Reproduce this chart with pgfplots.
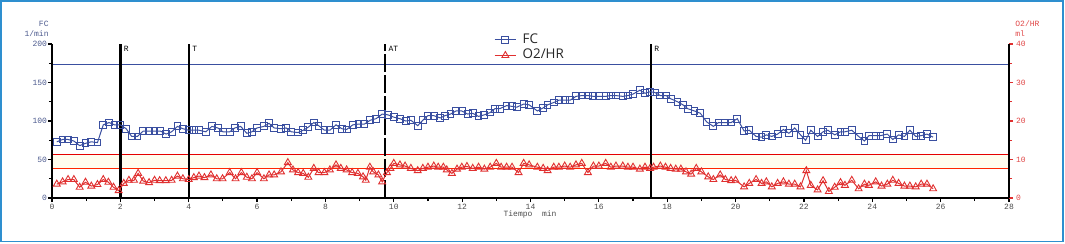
\documentclass[border=0pt]{standalone}
\usepackage{fontspec}
\setmainfont{Liberation Sans}
\newfontfamily\mono{Liberation Mono}
\newfontfamily\legfont{Open Sans}
\usepackage{pgfplots}
\pgfplotsset{compat=1.18}
\definecolor{framecol}{HTML}{2E8FCF}
\definecolor{fcblue}{HTML}{3A4FA0}
\definecolor{hrred}{HTML}{E03030}
\definecolor{lblue}{HTML}{4C5A8E}
\definecolor{lred}{HTML}{E04848}
\definecolor{pale}{HTML}{FFFDEE}
\newcommand{\tk}{\mono\fontsize{4}{5}\selectfont}
\begin{document}
\begin{tikzpicture}
\useasboundingbox (0,0) rectangle (532.5pt,121.5pt);
\draw[framecol, line width=0.8pt] (0.6pt,0.8pt) rectangle (531.6pt,120.9pt);
\begin{axis}[
  at={(26pt,22.5pt)}, anchor=south west,
  scale only axis, width=478.5pt, height=77pt,
  xmin=0, xmax=28, ymin=0, ymax=200,
  axis x line*=bottom, axis y line*=left,
  axis line style={line width=1pt, black, -},
  xtick={0,2,...,28}, minor xtick={1,3,...,27},
  ytick={0,50,...,200}, minor ytick={25,75,...,175},
  tick align=outside,
  major tick length=2pt, minor tick length=1.5pt,
  tick style={black, line width=0.6pt},
  every tick label/.append style={font=\tk},
  /pgf/number format/assume math mode=true,
  x tick label style={text=black!70, yshift=2.6pt},
  y tick label style={text=lblue, xshift=3pt},
  axis on top,
  clip=false,
]
\fill[pale] (axis cs:0,38) rectangle (axis cs:28,56.75);
\draw[red!90!black, line width=0.5pt] (axis cs:0,56.75) -- (axis cs:28,56.75);
\draw[red!70!orange, line width=0.5pt] (axis cs:0,38) -- (axis cs:28,38);
\draw[fcblue, line width=0.5pt] (axis cs:0,174) -- (axis cs:28,174);
\draw[line width=1.2pt] (axis cs:2,0) -- (axis cs:2,200);
\draw[line width=1.2pt] (axis cs:4,0) -- (axis cs:4,200);
\draw[line width=1.2pt, dash pattern=on 9pt off 1.5pt] (axis cs:9.74,0) -- (axis cs:9.74,200);
\draw[line width=1.2pt] (axis cs:17.52,0) -- (axis cs:17.52,200);
\node[anchor=north west, font=\tk, inner sep=1pt, xshift=0.6pt] at (axis cs:2,200) {R};
\node[anchor=north west, font=\tk, inner sep=1pt, xshift=0.6pt] at (axis cs:4,200) {T};
\node[anchor=north west, font=\tk, inner sep=1pt, xshift=0.6pt] at (axis cs:9.74,200) {AT};
\node[anchor=north west, font=\tk, inner sep=1pt, xshift=0.6pt] at (axis cs:17.52,200) {R};
\addplot[fcblue, line width=0.5pt, mark=square, mark size=1.7pt, mark options={line width=0.5pt}] coordinates {
(0.14,73)(0.31,76)(0.47,76)(0.64,74)(0.81,68)(0.98,71)(1.15,73)(1.33,72)(1.5,95)(1.67,98)(1.83,95)(2.0,95)(2.17,90)(2.33,80)(2.5,80)(2.67,87)(2.84,87)(3.0,87)(3.17,87)(3.34,83)(3.5,86)(3.67,93)(3.83,90)(4.0,88)(4.15,88)(4.3,88)(4.5,86)(4.68,93)(4.85,91)(5.0,86)(5.2,86)(5.35,91)(5.52,93)(5.7,84)(5.85,86)(6.0,91)(6.2,93)(6.35,97)(6.5,91)(6.7,90)(6.85,91)(7.0,86)(7.2,85)(7.35,88)(7.5,92)(7.66,98)(7.8,94)(7.97,88)(8.13,88)(8.31,95)(8.48,90)(8.62,89)(8.8,95)(8.97,96)(9.14,96)(9.31,101)(9.48,103)(9.66,109)(9.83,108)(10.0,105)(10.18,103)(10.35,100)(10.5,101)(10.7,94)(10.85,101)(11.0,107)(11.17,107)(11.36,104)(11.5,107)(11.66,109)(11.82,113)(11.99,113)(12.16,109)(12.31,110)(12.48,106)(12.65,108)(12.82,111)(12.96,116)(13.1,116)(13.3,120)(13.46,119)(13.6,118)(13.8,122)(13.96,121)(14.2,113)(14.37,117)(14.5,121)(14.68,124)(14.83,127)(15.0,127)(15.16,127)(15.33,132)(15.5,133)(15.68,133)(15.84,132)(16.0,132)(16.2,132)(16.35,133)(16.5,133)(16.7,132)(16.85,133)(17.0,135)(17.2,140)(17.35,136)(17.5,138)(17.64,137)(17.8,133)(17.97,133)(18.1,129)(18.3,125)(18.46,121)(18.6,116)(18.8,113)(18.97,110)(19.15,99)(19.35,93)(19.5,98)(19.7,98)(19.87,98)(20.05,103)(20.25,87)(20.4,88)(20.6,80)(20.76,79)(20.9,82)(21.06,80)(21.23,83)(21.4,89)(21.56,84)(21.73,91)(21.9,82)(22.05,75)(22.2,88)(22.4,80)(22.56,86)(22.7,88)(22.9,82)(23.07,86)(23.2,86)(23.4,88)(23.6,80)(23.77,74)(23.9,81)(24.1,81)(24.24,81)(24.44,83)(24.6,76)(24.77,82)(24.94,80)(25.1,88)(25.27,80)(25.43,81)(25.6,83)(25.78,79)
};
\end{axis}
\begin{axis}[
  at={(26pt,22.5pt)}, anchor=south west,
  scale only axis, width=478.5pt, height=77pt,
  xmin=0, xmax=28, ymin=0, ymax=40,
  hide x axis,
  axis y line*=right,
  axis line style={line width=1pt, black, -},
  ytick={0,10,...,40}, minor ytick={5,15,...,35},
  tick align=outside,
  major tick length=2pt, minor tick length=1.5pt,
  tick style={hrred, line width=0.6pt},
  every tick label/.append style={font=\tk},
  /pgf/number format/assume math mode=true,
  y tick label style={text=lred, xshift=-2pt},
  clip=false,
  legend style={at={(0.4615,1.083)}, anchor=north west, draw=none, fill=none,
    font=\legfont\fontsize{6.7}{7}\selectfont, text=black!85, row sep=-0.6pt,
    inner sep=0pt, nodes={inner xsep=3pt, inner ysep=1pt}},
  legend cell align=left,
  legend image code/.code={\draw[#1] plot coordinates {(0cm,0cm)(0.19cm,0cm)(0.38cm,0cm)};
    \draw[#1, mark repeat=1] plot coordinates {(0.19cm,0cm)};},
]
\addlegendimage{fcblue, line width=0.5pt, mark=square, mark size=1.7pt, mark options={line width=0.5pt}, mark indices={2}}
\addlegendentry{FC}
\addplot[hrred, line width=0.5pt, mark=triangle, mark size=2pt, mark options={line width=0.45pt}, mark indices={2}] coordinates {(-10,0)};
\addlegendentry{O2/HR}
\addplot[hrred, line width=0.5pt, mark=triangle, mark size=2pt, mark options={line width=0.45pt}, forget plot] coordinates {
(0.14,3.6)(0.31,4.2)(0.47,4.8)(0.64,4.8)(0.81,2.8)(0.98,4.1)(1.15,3.1)(1.33,3.5)(1.5,4.8)(1.65,4.1)(1.8,2.8)(1.95,1.9)(2.1,3.8)(2.25,4.6)(2.4,4.6)(2.52,6.4)(2.67,4.4)(2.84,4.0)(3.0,4.6)(3.15,4.5)(3.33,4.5)(3.5,4.6)(3.67,5.7)(3.83,5.0)(4.0,4.8)(4.15,5.3)(4.3,5.7)(4.46,5.3)(4.65,6.0)(4.82,5.0)(4.99,5.0)(5.2,6.6)(5.37,5.0)(5.54,6.6)(5.7,5.4)(5.85,5.0)(6.0,6.6)(6.2,5.0)(6.35,6.0)(6.5,6.0)(6.7,6.8)(6.9,9.2)(7.05,7.3)(7.2,6.6)(7.35,6.4)(7.5,5.4)(7.66,7.7)(7.8,6.6)(7.97,6.6)(8.13,7.3)(8.31,8.6)(8.45,7.7)(8.62,7.3)(8.78,6.6)(8.95,6.4)(9.1,5.5)(9.18,4.6)(9.3,8.0)(9.4,6.8)(9.55,6.0)(9.66,4.2)(9.8,6.6)(9.9,7.7)(10.0,9.0)(10.18,8.6)(10.33,8.3)(10.5,7.7)(10.7,7.1)(10.85,7.7)(11.0,8.0)(11.17,8.3)(11.3,8.0)(11.45,8.0)(11.55,7.3)(11.7,6.4)(11.85,7.5)(11.99,8.0)(12.14,8.2)(12.31,7.7)(12.48,8.0)(12.65,7.5)(12.82,8.0)(13.0,9.0)(13.14,8.0)(13.3,8.0)(13.46,8.0)(13.65,6.6)(13.8,9.0)(13.96,8.6)(14.2,8.0)(14.37,7.7)(14.5,7.1)(14.68,8.0)(14.83,8.0)(15.0,8.3)(15.16,8.0)(15.33,8.6)(15.5,9.0)(15.68,6.6)(15.84,8.3)(16.0,8.3)(16.2,9.0)(16.35,8.0)(16.5,8.3)(16.7,8.3)(16.85,8.0)(17.0,8.0)(17.2,7.5)(17.35,8.0)(17.5,7.7)(17.6,8.0)(17.8,8.3)(17.95,8.0)(18.1,7.7)(18.25,7.5)(18.4,7.5)(18.55,6.8)(18.7,6.2)(18.85,7.7)(19.0,6.8)(19.2,5.5)(19.35,4.8)(19.55,6.0)(19.7,4.8)(19.87,4.5)(20.0,4.6)(20.25,2.9)(20.4,3.8)(20.6,4.8)(20.76,3.8)(20.9,4.2)(21.06,2.9)(21.23,3.8)(21.4,4.2)(21.56,3.6)(21.73,3.6)(21.9,2.9)(22.07,7.1)(22.2,3.3)(22.4,2.1)(22.56,4.5)(22.73,1.7)(22.9,2.8)(23.07,4.0)(23.2,3.3)(23.4,4.6)(23.6,2.4)(23.77,3.6)(23.9,3.3)(24.1,4.2)(24.27,3.1)(24.44,3.6)(24.6,4.6)(24.77,3.8)(24.94,3.1)(25.1,3.1)(25.27,2.9)(25.43,3.6)(25.6,3.6)(25.78,2.4)
};
\end{axis}
\node[anchor=east, font=\tk, text=lblue, inner sep=0pt] at (24.5pt,109.5pt) {FC};
\node[anchor=east, font=\tk, text=lblue, inner sep=0pt] at (24.5pt,104.5pt) {1/min};
\node[anchor=west, font=\tk, text=lred, inner sep=0pt] at (507.5pt,109.5pt) {O2/HR};
\node[anchor=west, font=\tk, text=lred, inner sep=0pt] at (507.5pt,104.5pt) {ml};
\node[font=\tk, text=black!70, inner sep=0pt] at (265pt,14.5pt) {Tiempo\ \ min};
\end{tikzpicture}
\end{document}
